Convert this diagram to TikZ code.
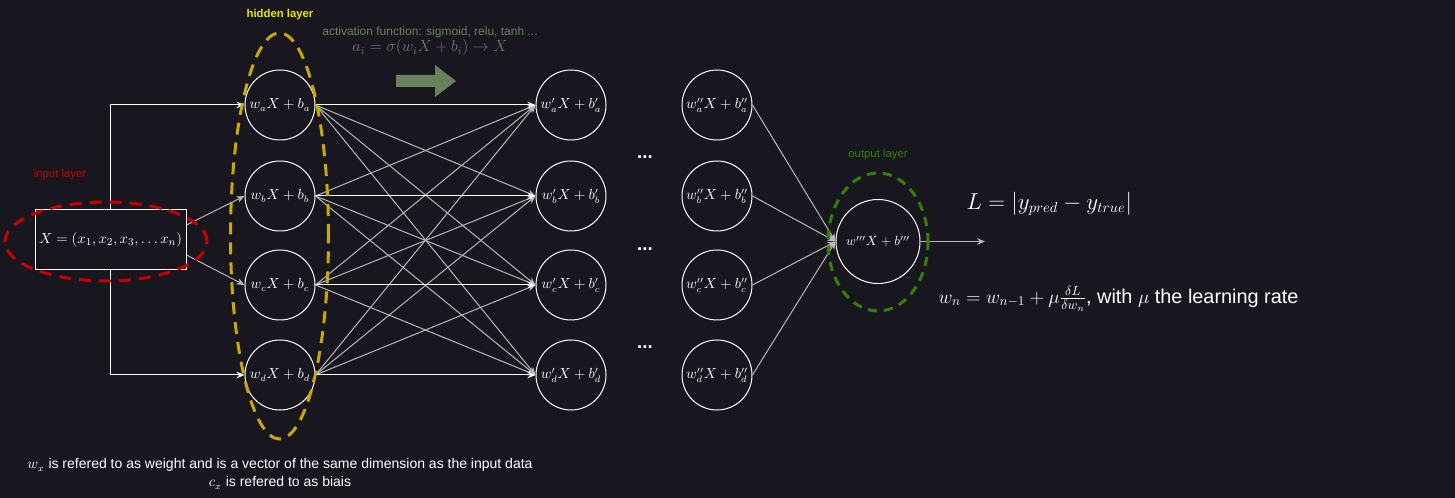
\documentclass[tikz,border=0pt]{standalone}
\usepackage{fontspec}
\setmainfont{Liberation Sans}
\usetikzlibrary{arrows.meta,shapes.geometric}
\definecolor{bg}{RGB}{24,22,31}
\definecolor{hid}{RGB}{204,168,0}
\definecolor{inred}{RGB}{200,0,0}
\definecolor{outgreen}{RGB}{50,130,0}
\definecolor{actgreen}{RGB}{104,130,94}
\definecolor{hidlabel}{RGB}{232,232,0}
\definecolor{edgegray}{RGB}{185,185,185}
\begin{document}
\begin{tikzpicture}[x=0.75pt,y=-0.75pt,
  neuron/.style={circle,draw=white,line width=0.75pt,minimum size=52.5pt,inner sep=0pt,text=white,font=\fontsize{10.5}{12}\selectfont},
  conn/.style={draw=edgegray,line width=0.75pt,-{Stealth[length=6pt,width=5pt]},edgegray},
  hconn/.style={draw=white,line width=0.75pt,-{Stealth[length=6pt,width=5pt]},white},
  layerlab/.style={font=\fontsize{8.5}{10}\selectfont},
  grp/.style={ellipse,inner sep=0pt,line width=2.25pt,dash pattern=on 9pt off 6pt},
  dotlab/.style={text=white,font=\bfseries\fontsize{14}{16}\selectfont},
]
\fill[bg] (0,0) rectangle (1455,498);
\useasboundingbox (0,0) rectangle (1455,498);

% input box
\node[draw=white,line width=0.75pt,minimum width=113.25pt,minimum height=45pt,inner sep=0pt,text=white,font=\fontsize{11}{13}\selectfont] (in) at (110.5,240) {$X=(x_1,x_2,x_3,\dots x_n)$};

% hidden layer
\node[neuron] (ha) at (280,105) {$w_aX+b_a$};
\node[neuron] (hb) at (280,196) {$w_bX+b_b$};
\node[neuron] (hc) at (280,285) {$w_cX+b_c$};
\node[neuron] (hd) at (280,375) {$w_dX+b_d$};
% second layer
\node[neuron] (sa) at (571,105) {$w'_aX+b'_a$};
\node[neuron] (sb) at (571,196) {$w'_bX+b'_b$};
\node[neuron] (sc) at (571,285) {$w'_cX+b'_c$};
\node[neuron] (sd) at (571,375) {$w'_dX+b'_d$};
% third layer
\node[neuron] (ta) at (717,105) {$w''_aX+b''_a$};
\node[neuron] (tb) at (717,196) {$w''_bX+b''_b$};
\node[neuron] (tc) at (717,285) {$w''_cX+b''_c$};
\node[neuron] (td) at (717,375) {$w''_dX+b''_d$};
% output
\node[neuron,minimum size=63pt,font=\fontsize{10}{12}\selectfont] (out) at (878,241.5) {$w'''X+b'''$};
\coordinate (end) at (985,241.5);

% dots
\node[dotlab] (dots1) at (645,157) {...};
\node[dotlab] (dots2) at (645,249) {...};
\node[dotlab] (dots3) at (645,347) {...};

% input connections
\draw[hconn] (in.north) |- (ha.west);
\draw[hconn] (in.south) |- (hd.west);
\draw[conn] ([yshift=11.25pt]in.east) -- (hb.west);
\draw[conn] ([yshift=-11.25pt]in.east) -- (hc.west);

% hidden -> second
\foreach \i in {a,b,c,d}{
  \foreach \j in {a,b,c,d}{
    \ifx\i\j\else\draw[conn] (h\i.east) -- (s\j.west);\fi
  }
}
\foreach \i in {a,b,c,d}{\draw[hconn] (h\i.east) -- (s\i.west);}
% third -> output
\foreach \i in {a,b,c,d}{\draw[conn] (t\i.east) -- (out.west);}
\draw[conn] (out.east) -- (end);

% group ellipses
\node[grp,draw=hid,minimum width=73.5pt,minimum height=304.5pt] (hidgrp) at (279.5,236) {};
\node[grp,draw=inred,minimum width=151.5pt,minimum height=59.25pt] (ingrp) at (106,241.5) {};
\node[grp,draw=outgreen,minimum width=75pt,minimum height=103.5pt,dash pattern=on 7pt off 5pt] (outgrp) at (878,242) {};

% labels
\node[text=hidlabel,font=\bfseries\fontsize{8.5}{10}\selectfont] (hidlab) at (280,15) {hidden layer};
\node[text=inred,layerlab] (inlab) at (60,175) {input layer};
\node[text=outgreen,layerlab] (outlab) at (878,155) {output layer};

% activation
\node[text=actgreen,font=\fontsize{9}{10}\selectfont] (act) at (430,32) {activation function: sigmoid, relu, tanh ...};
\node[text=actgreen,font=\fontsize{12}{14}\selectfont] (actf) at (430,48) {$a_i=\sigma(w_iX+b_i)\rightarrow X$};
\fill[actgreen] (396,75) -- (435,75) -- (435,65) -- (456,81) -- (435,97) -- (435,87) -- (396,87) -- cycle;

% formulas
\node[text=white,anchor=west,font=\fontsize{16.3}{19}\selectfont] (loss) at (962,204) {$L=\left|y_{pred}-y_{true}\right|$};
\node[text=white,anchor=west,font=\fontsize{14.9}{17}\selectfont] (upd) at (934,299) {$w_n=w_{n-1}+\mu\frac{\delta L}{\delta w_n}$, with $\mu$ the learning rate};

% note
\node[text=white,align=center,font=\fontsize{10.5}{13.5}\selectfont] (note) at (280,474) {$w_x$ is refered to as weight and is a vector of the same dimension as the input data\\ $c_x$ is refered to as biais};
\end{tikzpicture}
\end{document}
